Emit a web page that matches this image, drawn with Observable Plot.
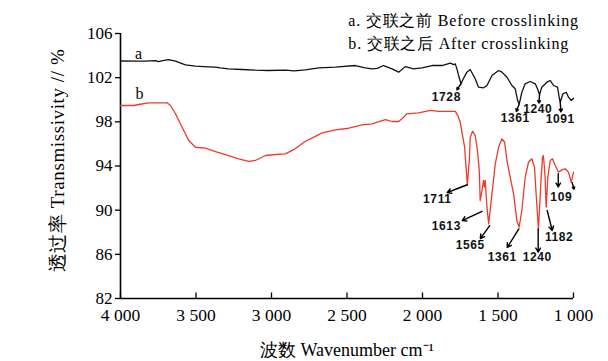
<!DOCTYPE html>
<html><head><meta charset="utf-8">
<script src="https://cdn.jsdelivr.net/npm/d3@7"></script>
<script src="https://cdn.jsdelivr.net/npm/@observablehq/plot@0.6"></script>
<style>
body{margin:0;background:#fff}
#chart{width:608px;height:361px}
</style>
</head><body><div id="chart"></div>
<script>
// Curve a: before crosslinking (wavenumber cm-1, transmissivity %)
const aWave = [4000,3901,3840,3768,3749,3720,3682,3636,3570,3504,3418,3371,3340,3285,3195,3107,3021,2908,2850,2776,2688,2577,2445,2379,2334,2300,2258,2202,2158,2114,2059,2003,1937,1871,1816,1794,1783,1772,1761,1745,1728,1706,1684,1651,1629,1596,1573,1540,1496,1474,1441,1408,1386,1370,1359,1342,1320,1287,1253,1236,1225,1210,1176,1154,1132,1106,1093,1088,1070,1048,1033,1015,1000];
const aT    = [103.51,103.49,103.5,103.55,103.46,103.55,103.64,103.49,103.16,103.04,102.98,102.95,102.88,102.80,102.74,102.68,102.65,102.68,102.62,102.71,102.89,102.95,103.1,102.89,102.8,102.85,103.1,102.8,102.5,103.0,102.8,102.89,103.1,103.1,103.31,103.19,103.25,102.8,102.2,101.45,101.95,102.5,102.74,101.9,101.14,101.08,101.29,102.2,102.65,102.5,102.04,101.29,100.99,99.93,99.63,100.68,101.44,101.65,101.44,100.9,100.45,101.14,101.59,101.74,101.29,101.14,100.09,99.78,100.54,100.68,100.23,99.93,100.14];

// Curve b: after crosslinking
const bWave = [4000,3912,3879,3813,3691,3669,3636,3592,3548,3504,3437,3371,3305,3217,3151,3107,3040,2974,2908,2850,2780,2700,2665,2577,2489,2400,2334,2246,2202,2158,2136,2103,2026,1948,1893,1783,1766,1750,1739,1721,1710,1703,1690,1684,1668,1651,1636,1624,1618,1606,1596,1590,1585,1573,1562,1540,1518,1496,1474,1456,1441,1419,1397,1375,1360,1342,1320,1298,1276,1258,1249,1236,1232,1214,1205,1199,1188,1181,1170,1154,1139,1121,1099,1077,1055,1033,1015,1000];
const bT    = [99.48,99.48,99.57,99.72,99.72,99.48,98.73,97.51,96.31,95.70,95.61,95.31,95.04,94.65,94.41,94.5,94.95,95.04,95.1,95.5,96.2,96.75,97.0,97.28,97.42,97.73,97.82,98.21,98.03,98.03,98.27,98.73,98.82,99.03,98.94,98.94,98.57,97.97,97.06,95.7,93.6,92.3,94.5,96.6,97.15,96.76,95.4,93.6,90.87,91.78,92.7,92.1,92.7,90.27,88.76,91.48,94.2,95.7,96.46,96.15,94.5,92.98,91.48,89.06,88.46,89.97,92.98,94.34,94.65,93.89,91.78,89.06,88.3,92.98,94.8,94.95,92.98,90.27,92.98,94.5,94.65,94.04,93.44,93.65,93.75,93.44,92.53,93.44];

const xTicks = [4000,3500,3000,2500,2000,1500,1000];
const yTicks = [82,86,90,94,98,102,106];

// Peak annotations (text, label anchor, arrow start at the band, arrow end)
const aPeakText = ["1728","1361","1240","1091"];
const aLabelW = [1842,1386,1237,1088];
const aLabelT = [100.2,98.3,99.16,98.26];
const aArrowW1 = [1745,1359,1225,1088];
const aArrowT1 = [101.45,99.63,100.45,99.78];
const aArrowW2 = [1772,1379,1229,1083];
const aArrowT2 = [100.9,98.95,99.7,98.9];

const bPeakText = ["1711","1613","1565","1361","1240","1182","109"];
const bLabelW = [1902,1842,1684,1472,1240,1095,1081];
const bLabelT = [90.96,88.52,86.8,85.71,85.71,87.52,91.14];
const bArrowW1 = [1703,1606,1555,1362,1234,1174,1101,1009];
const bArrowT1 = [92.3,89.9,88.6,88.3,88.3,89.97,93.3,92.5];
const bArrowW2 = [1836,1737,1617,1439,1234,1141,1101,996];
const bArrowT2 = [91.6,89.06,87.43,86.62,86.2,88.16,92.1,91.9];

const legendLines = ["a. 交联之前 Before crosslinking", "b. 交联之后 After crosslinking"];
const curveNames = ["a","b"];
const yTitle = "透过率 Transmissivity // %";
const xTitle = "波数 Wavenumber cm⁻¹";

const lineA = aWave.map((w,i)=>({w, t:aT[i]}));
const lineB = bWave.map((w,i)=>({w, t:bT[i]}));
const arrowsA = aArrowW1.map((w,i)=>({x1:w,y1:aArrowT1[i],x2:aArrowW2[i],y2:aArrowT2[i]}));
const arrowsB = bArrowW1.map((w,i)=>({x1:w,y1:bArrowT1[i],x2:bArrowW2[i],y2:bArrowT2[i]}));
const labelsA = aPeakText.map((s,i)=>({s,w:aLabelW[i],t:aLabelT[i]}));
const labelsB = bPeakText.map((s,i)=>({s,w:bLabelW[i],t:bLabelT[i]}));

const fmt = d => d3.format(",")(d).replace(",", " ");
const serif = "Liberation Serif, Times New Roman, serif";
const labelFont = "Liberation Sans, Arial, sans-serif";

const chart = Plot.plot({
  width: 608, height: 361,
  marginLeft: 120, marginRight: 35, marginTop: 33, marginBottom: 63,
  style: {fontFamily: serif, fontSize: "18px", background: "#fff", color: "#000", overflow: "visible"},
  x: {domain: [4000, 1000]},
  y: {domain: [82, 106]},
  marks: [
    Plot.axisY(yTicks, {tickSize: 5, tickPadding: 3, label: null, stroke: "#000", strokeWidth: 1.3, fontSize: 17}),
    Plot.axisX(xTicks, {tickSize: 0, tickPadding: 10, label: null, tickFormat: fmt, fontSize: 17.5}),
    Plot.ruleX(xTicks, {y1: 82, y2: 82.5, stroke: "#000", strokeWidth: 1.3}),
    Plot.ruleY([82], {x1: 4000, x2: 1000, stroke: "#000", strokeWidth: 1.6}),
    Plot.ruleX([4000], {y1: 82, y2: 106, stroke: "#000", strokeWidth: 1.6}),
    Plot.line(lineA, {x: "w", y: "t", stroke: "#111", strokeWidth: 1.3}),
    Plot.line(lineB, {x: "w", y: "t", stroke: "#ee3a2c", strokeWidth: 1.3}),
    Plot.arrow(arrowsA, {x1:"x1", y1:"y1", x2:"x2", y2:"y2", stroke:"#000", strokeWidth:1.4, headLength:5}),
    Plot.arrow(arrowsB, {x1:"x1", y1:"y1", x2:"x2", y2:"y2", stroke:"#000", strokeWidth:1.4, headLength:5}),
    Plot.text(labelsA, {x:"w", y:"t", text:"s", fontFamily: labelFont, fontWeight: "bold", fontSize: 12, fill:"#111"}),
    Plot.text(labelsB, {x:"w", y:"t", text:"s", fontFamily: labelFont, fontWeight: "bold", fontSize: 12, fill:"#111"}),
    Plot.text([curveNames[0]], {x: 3881, y: 104.19, text: d=>d, fontSize: 16, fontFamily: serif}),
    Plot.text([curveNames[1]], {x: 3874, y: 100.57, text: d=>d, fontSize: 16, fontFamily: serif}),
    Plot.text([legendLines[0]], {x: 2491, y: 107.18, text: d=>d, textAnchor: "start", fontSize: 16, fontFamily: serif}),
    Plot.text([legendLines[1]], {x: 2491, y: 105.1, text: d=>d, textAnchor: "start", fontSize: 16, fontFamily: serif}),
    Plot.text([yTitle], {x: 4417, y: 94.5, rotate: -90, text: d=>d, fontSize: 19, fontFamily: serif}),
    Plot.text([xTitle], {x: 2500, y: 82 - 52/11.04, text: d=>d, fontSize: 18, fontFamily: serif})
  ]
});
document.getElementById("chart").appendChild(chart);
// spacing tweaks to match the reference's typography
d3.select(chart).selectAll("text").each(function() {
  const s = this.textContent;
  if (legendLines.includes(s)) this.style.letterSpacing = "0.8px";
  if (aPeakText.includes(s) || bPeakText.includes(s)) this.style.letterSpacing = "0.6px";
  if (s === yTitle) this.style.letterSpacing = "0.6px";
});
</script>
</body></html>
